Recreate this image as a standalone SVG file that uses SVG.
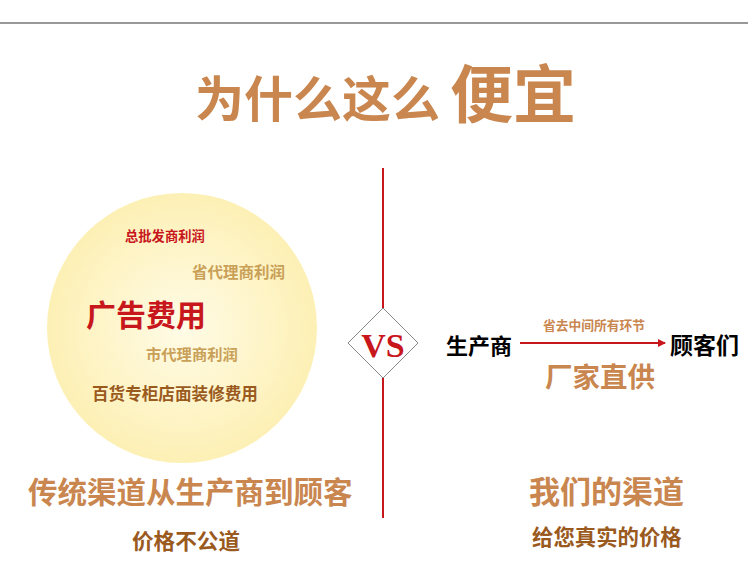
<svg xmlns="http://www.w3.org/2000/svg" width="748" height="561" viewBox="0 0 748 561">
<defs>
<radialGradient id="g" cx="0.5" cy="0.5" r="0.5"><stop offset="0" stop-color="#fffbe6"/><stop offset="1" stop-color="#fdf0b5"/></radialGradient>
<marker id="ar" markerWidth="8" markerHeight="8" refX="7" refY="4" orient="auto" markerUnits="userSpaceOnUse"><path d="M0,0 L8,4 L0,8 z" fill="#c8161d"/></marker>
<style>
text{font-family:"Noto Sans CJK SC","Noto Sans",sans-serif;font-weight:bold}
.tan{fill:#c9864f}
.gold{fill:#c9a057}
.brown{fill:#9a5a1e}
.red{fill:#c8161d}
</style>
</defs>
<rect width="748" height="561" fill="#fff"/>
<line x1="0" y1="23" x2="748" y2="23" stroke="#333" stroke-width="1"/>
<text x="195" y="117" font-size="49" class="tan">为什么这么</text>
<text x="450" y="117" font-size="63" class="tan">便宜</text>
<g id="circle"><circle cx="182" cy="328" r="135" fill="url(#g)"/>
<text x="125" y="241" font-size="13.3" class="red">总批发商利润</text>
<text x="192" y="278" font-size="15.5" class="gold">省代理商利润</text>
<text x="86" y="326" font-size="30" class="red" font-weight="normal">广告费用</text>
<text x="146" y="360" font-size="15.3" class="gold">市代理商利润</text>
<text x="92" y="400" font-size="16.6" class="brown">百货专柜店面装修费用</text></g>
<g id="connectors">
<line x1="383" y1="168" x2="383" y2="518" stroke="#c8161d" stroke-width="2"/>
<line x1="520" y1="343" x2="665" y2="343" stroke="#c8161d" stroke-width="2" marker-end="url(#ar)"/>
</g>
<g id="vs"><polygon points="383,308 418,343 383,378 348,343" fill="#fff" stroke="#888" stroke-width="1"/>
<text x="383" y="357" font-size="34" text-anchor="middle" class="red" style="font-family:'Liberation Serif',serif">VS</text></g>
<text x="446" y="354" font-size="22" fill="#000">生产商</text>
<text x="543" y="330" font-size="12.75" class="tan">省去中间所有环节</text>
<text x="670" y="354" font-size="23" fill="#000">顾客们</text>
<text x="545" y="387" font-size="27.5" class="tan">厂家直供</text>
<text x="28" y="503" font-size="29.5" class="tan">传统渠道从生产商到顾客</text>
<text x="132" y="549" font-size="21.6" class="brown">价格不公道</text>
<text x="529" y="503" font-size="31" class="tan">我们的渠道</text>
<text x="532" y="545" font-size="21.4" class="brown">给您真实的价格</text>
</svg>
